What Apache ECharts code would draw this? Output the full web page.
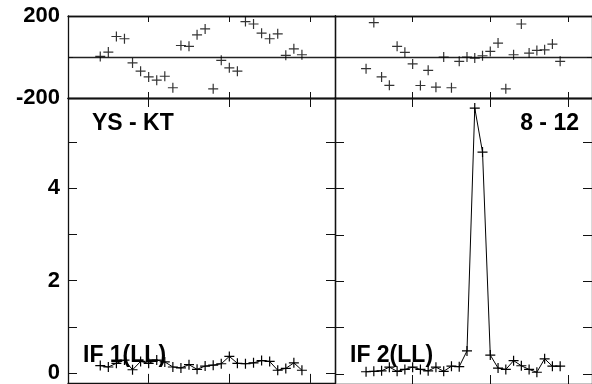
<!DOCTYPE html>
<html>
<head>
<meta charset="utf-8">
<script src="https://cdn.jsdelivr.net/npm/echarts/dist/echarts.min.js"></script>
<style>
html,body{margin:0;padding:0;background:#fff;}
#chart{width:592px;height:384px;}
</style>
</head>
<body>
<div id="chart"></div>
<script>
// Data (x = sample index)
var xs = [4, 5, 6, 7, 8, 9, 10, 11, 12, 13, 14, 15, 16, 17, 18, 19, 20, 21, 22, 23, 24, 25, 26, 27, 28, 29];
// residuals, top panels
var resLeft = [3, 24, 100, 89, -29, -69, -97, -113, -94, -150, 56, 52, 108, 137, -155, -16, -53, -69, 173, 161, 116, 89, 113, 8, 40, 11];
var resRight = [-57, 168, -97, -138, 52, 23, -34, -139, -65, -147, 0, -150, -21, 0, -5, 6, 27, 68, -155, 11, 161, 19, 32, 35, 63, -21];
// amplitudes, bottom panels
var ampLeft = [0.16, 0.13, 0.21, 0.28, 0.07, 0.25, 0.21, 0.28, 0.24, 0.13, 0.11, 0.18, 0.08, 0.15, 0.17, 0.20, 0.36, 0.21, 0.20, 0.22, 0.27, 0.25, 0.06, 0.10, 0.22, 0.06];
var ampRight = [0.05, 0.06, 0.07, 0.15, 0.06, 0.10, 0.15, 0.10, 0.07, 0.15, 0.06, 0.17, 0.16, 0.50, 5.74, 4.79, 0.41, 0.13, 0.10, 0.29, 0.18, 0.10, 0.04, 0.33, 0.17, 0.17];
var resTicks = [-200, 0, 200];
var ampTicks = [0, 1, 2, 3, 4, 5];
var ampLabels = [0, 2, 4];
var panelTitles = ['YS - KT', '8 - 12'];
var seriesLabels = ['IF 1(LL)', 'IF 2(LL)'];

function pairs(x, y) { return x.map(function (v, i) { return [v, y[i]]; }); }

var FONT = '"Liberation Sans", Arial, sans-serif';
var AX = '#111';
var grids = [
  {left: 68, top: 16, width: 267, height: 82},
  {left: 68, top: 98, width: 267, height: 288},
  {left: 335, top: 16, width: 267, height: 82},
  {left: 335, top: 98, width: 267, height: 288}
];
var xAxes = [], yAxes = [];
grids.forEach(function (g, gi) {
  var isTop = gi % 2 === 0;
  var isLeft = gi < 2;
  var tl = isTop ? 6 : 9;
  ['bottom', 'top'].forEach(function (pos) {
    xAxes.push({
      type: 'value', gridIndex: gi, position: pos, min: 0, max: 33.1, interval: 10,
      axisLine: {show: true, onZero: false, lineStyle: {color: AX, width: 1.3}},
      axisTick: {show: true, inside: true, length: tl, lineStyle: {color: AX, width: 1}},
      axisLabel: {show: false}, splitLine: {show: false}
    });
  });
  ['left', 'right'].forEach(function (pos) {
    var y = {
      type: 'value', gridIndex: gi, position: pos,
      axisLine: {show: true, onZero: false, lineStyle: {color: AX, width: 1.3}},
      axisTick: {show: true, inside: true, length: isTop ? 5 : 9, lineStyle: {color: AX, width: 1}},
      axisLabel: {show: isLeft && pos === 'left', color: '#000', fontFamily: FONT, fontWeight: 'bold', fontSize: 22, margin: 8, padding: [4, 0, 0, 0]},
      splitLine: {show: false}
    };
    if (isTop) {
      y.min = -200; y.max = 200; y.interval = 200;
      y.axisLabel.formatter = function (v) { return v === 0 ? '' : String(v); };
      y.splitLine = {show: pos === 'left', lineStyle: {color: '#222', width: 1.3}};
    } else {
      y.min = -0.214; y.max = 5.957;
      y.axisTick.customValues = ampTicks;
      y.axisLabel.customValues = ampLabels;
    }
    yAxes.push(y);
  });
});

var plus = 'path://M0,5L10,5M5,0L5,10';
var markStyle = {color: '#000', borderColor: '#000', borderWidth: 1.2};
var series = [
  {type: 'scatter', xAxisIndex: 0, yAxisIndex: 0, data: pairs(xs, resLeft), symbol: plus, symbolSize: 10, itemStyle: markStyle},
  {type: 'line', xAxisIndex: 2, yAxisIndex: 2, data: pairs(xs, ampLeft), symbol: plus, symbolSize: 10, showSymbol: true, itemStyle: markStyle, lineStyle: {color: '#000', width: 1}},
  {type: 'scatter', xAxisIndex: 4, yAxisIndex: 4, data: pairs(xs, resRight), symbol: plus, symbolSize: 10, itemStyle: markStyle},
  {type: 'line', xAxisIndex: 6, yAxisIndex: 6, data: pairs(xs, ampRight), symbol: plus, symbolSize: 10, showSymbol: true, itemStyle: markStyle, lineStyle: {color: '#000', width: 1}}
];

var tfont = 'bold 23px ' + FONT;
var graphic = [
  {type: 'text', x: 92, y: 124, z: 100, style: {text: panelTitles[0], font: tfont, fill: '#000', textVerticalAlign: 'middle'}},
  {type: 'text', x: 579, y: 124, z: 100, style: {text: panelTitles[1], font: tfont, fill: '#000', textAlign: 'right', textVerticalAlign: 'middle'}},
  {type: 'text', x: 83, y: 356, z: 100, style: {text: seriesLabels[0], font: tfont, fill: '#000', textVerticalAlign: 'middle'}},
  {type: 'text', x: 350, y: 356, z: 100, style: {text: seriesLabels[1], font: tfont, fill: '#000', textVerticalAlign: 'middle'}}
];

var chart = echarts.init(document.getElementById('chart'), null, {renderer: 'canvas'});
chart.setOption({
  animation: false,
  backgroundColor: '#fff',
  grid: grids,
  xAxis: xAxes,
  yAxis: yAxes,
  series: series,
  graphic: graphic
});
</script>
</body>
</html>
